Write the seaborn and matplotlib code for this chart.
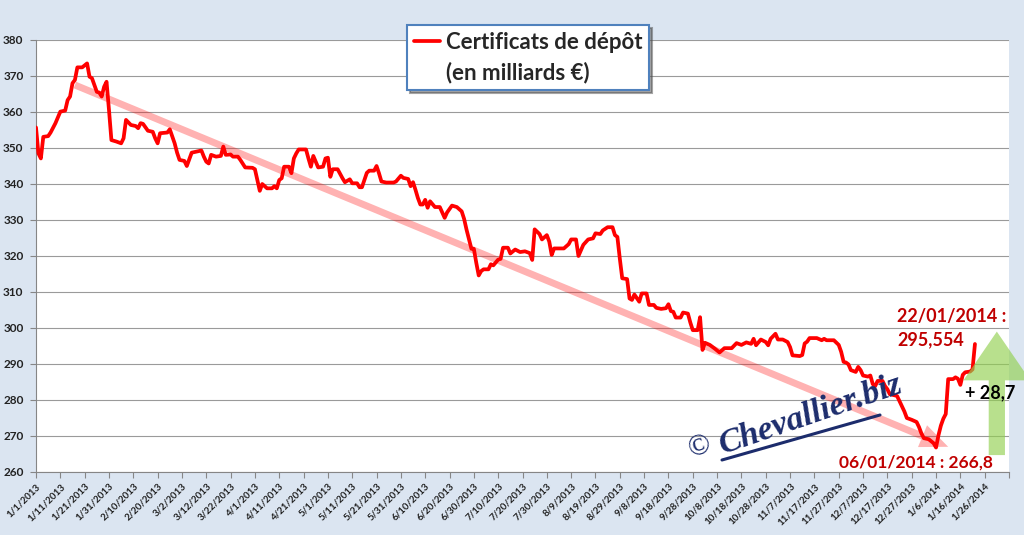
import matplotlib
matplotlib.use("Agg")
import matplotlib.pyplot as plt
import matplotlib.dates as mdates
from matplotlib.lines import Line2D
import pandas as pd
import seaborn as sns

# --- data (days counted from 1/1/2013) ---
start_date = pd.Timestamp("2013-01-01")
day_offset = [
    0, 1, 2, 3, 5, 6, 8, 10, 12, 13, 14, 15, 16, 17, 19, 21, 22, 23, 25, 26,
    27, 28, 29, 30, 31, 33, 35, 36, 37, 39, 41, 42, 43, 44, 46, 48, 49, 50, 51, 54,
    55, 57, 58, 59, 61, 62, 64, 66, 68, 69, 70, 71, 72, 74, 76, 77, 78, 80, 81, 83,
    84, 86, 89, 90, 91, 92, 93, 95, 97, 98, 99, 100, 101, 102, 104, 105, 106, 107, 108, 111,
    112, 113, 114, 116, 118, 119, 120, 121, 122, 124, 126, 127, 129, 130, 132, 133, 134, 136, 137, 139,
    140, 141, 142, 144, 147, 148, 150, 151, 153, 154, 155, 156, 157, 158, 159, 160, 161, 162, 164, 166,
    168, 169, 171, 173, 175, 176, 177, 178, 179, 180, 181, 182, 183, 184, 186, 187, 188, 190, 191, 192,
    194, 195, 197, 199, 201, 203, 204, 205, 207, 208, 210, 211, 212, 213, 217, 219, 220, 222, 223, 225,
    227, 229, 230, 232, 233, 235, 237, 238, 239, 240, 241, 243, 244, 245, 246, 248, 249, 251, 252, 254,
    255, 257, 259, 260, 261, 262, 263, 265, 266, 268, 269, 270, 272, 273, 274, 275, 277, 279, 281, 283,
    286, 288, 290, 292, 294, 295, 296, 298, 300, 301, 302, 304, 305, 307, 309, 310, 311, 314, 315, 316,
    317, 318, 321, 323, 324, 325, 328, 330, 331, 332, 333, 334, 335, 337, 338, 339, 340, 342, 343, 344,
    345, 346, 348, 349, 350, 351, 353, 354, 356, 357, 358, 360, 362, 363, 364, 365, 367, 369, 370, 371,
    372, 373, 374, 375, 377, 378, 379, 380, 381, 382, 384, 385, 386,
]
values = [
    355.7, 348.5, 347.1, 353.1, 353.3, 354.3, 356.9, 360.1, 360.4, 363.3, 364.3, 368.0, 368.9, 372.4, 372.4, 373.5, 369.8, 369.4, 365.6, 365.4,
    364.3, 367.0, 368.4, 360.6, 352.2, 351.8, 351.3, 352.7, 357.8, 356.4, 356.1, 355.5, 356.9, 356.7, 354.8, 354.5, 352.7, 351.3, 354.1, 354.3,
    355.2, 351.3, 348.7, 346.7, 346.4, 345.0, 348.7, 349.0, 349.3, 347.6, 346.2, 345.7, 348.1, 347.6, 347.8, 350.4, 348.1, 348.2, 347.6, 347.6,
    346.7, 344.6, 344.5, 344.1, 341.1, 338.1, 340.0, 338.8, 338.8, 339.4, 338.8, 341.1, 341.6, 344.8, 344.8, 343.0, 347.1, 348.5, 349.6, 349.6,
    347.1, 344.8, 347.8, 344.6, 344.8, 347.1, 347.3, 342.0, 344.1, 344.1, 341.6, 340.5, 341.3, 340.2, 340.2, 339.1, 339.1, 343.1, 343.7, 343.7,
    345.0, 343.0, 340.7, 340.4, 340.4, 340.7, 342.3, 341.7, 341.4, 339.4, 340.5, 338.4, 336.1, 334.3, 334.3, 335.6, 333.4, 335.2, 333.6, 333.6,
    330.6, 332.1, 334.0, 333.6, 332.4, 330.3, 327.3, 324.6, 322.0, 322.0, 318.1, 314.6, 315.8, 316.3, 316.3, 317.7, 317.4, 319.0, 319.2, 322.3,
    322.3, 320.7, 321.8, 321.1, 321.3, 320.8, 318.9, 327.4, 326.1, 324.6, 325.8, 324.0, 320.3, 322.1, 322.1, 323.3, 324.6, 324.6, 320.0, 323.1,
    324.6, 324.9, 326.3, 326.1, 327.1, 328.0, 328.0, 325.8, 325.3, 319.3, 313.8, 313.6, 308.2, 307.8, 309.3, 307.3, 309.6, 309.6, 306.4, 306.4,
    305.6, 305.3, 305.5, 306.6, 304.7, 304.5, 302.9, 302.9, 304.3, 304.0, 301.5, 299.4, 299.4, 303.0, 293.9, 295.9, 295.3, 294.3, 293.2, 294.4,
    294.4, 295.8, 295.3, 296.0, 295.6, 297.0, 295.2, 296.8, 296.1, 295.2, 297.0, 298.4, 296.8, 296.8, 296.1, 294.7, 292.4, 292.2, 292.5, 295.7,
    296.2, 297.2, 297.2, 296.6, 297.0, 296.6, 296.6, 295.3, 293.4, 290.6, 290.4, 289.9, 288.3, 287.8, 289.2, 288.3, 286.8, 286.5, 286.8, 284.4,
    283.9, 285.3, 285.3, 283.9, 283.0, 281.6, 281.3, 281.1, 278.2, 276.8, 275.0, 274.5, 273.9, 272.5, 270.7, 269.4, 269.1, 268.0, 266.8, 270.2,
    272.9, 274.8, 276.1, 285.8, 285.8, 286.3, 285.9, 284.2, 287.0, 287.7, 287.9, 288.5, 295.554,
]

series_label = "Certificats de dépôt"
series_unit = "(en milliards €)"
y_ticks = list(range(260, 381, 10))
low_date, low_value = "2014-01-06", 266.8
last_date, last_value = "2014-01-22", 295.554
gain_text = "+ 28,7"
trend_start = ("2013-01-17", 367.5)
trend_end = ("2014-01-11", 267.0)
rise_date, rise_from, rise_to = "2014-01-31", 264.7, 299.0

df = pd.DataFrame({"date": start_date + pd.to_timedelta(day_offset, unit="D"),
                   "value": values})

BG = "#dbe5f1"
DARK_RED = "#c00000"
GRID = "#9a9a9a"

sns.set_theme(style="white")
plt.rcParams["font.family"] = ["Lato", "DejaVu Sans"]

fig = plt.figure(figsize=(10.24, 5.35), dpi=100, facecolor=BG)
ax = fig.add_axes([36 / 1024, 63 / 535, 973 / 1024, 432 / 535])
ax.set_facecolor("white")

sns.lineplot(data=df, x="date", y="value", color="#ff0000", lw=2.7, ax=ax,
             label=series_label, zorder=3)

# axes
x_ticks = pd.date_range("2013-01-01", "2014-02-05", freq="10D")
ax.set_xlim(x_ticks[0], x_ticks[-1])
ax.set_ylim(y_ticks[0], y_ticks[-1])
ax.set_xticks(x_ticks)
ax.set_xticklabels([f"{d.month}/{d.day}/{d.year}" if i < len(x_ticks) - 1 else ""
                    for i, d in enumerate(x_ticks)],
                   rotation=45, ha="right", rotation_mode="anchor",
                   fontsize=7, fontweight="bold", color="#222222")
ax.set_yticks(y_ticks)
ax.set_yticklabels([str(v) for v in y_ticks], fontsize=8.5, fontweight="bold",
                   color="#222222")
ax.tick_params(axis="x", length=4, width=0.8, color="#868686", pad=3, bottom=True)
ax.tick_params(axis="y", length=4, width=0.8, color="#868686", pad=5, left=True)
ax.grid(axis="y", color=GRID, lw=0.8)
ax.set_axisbelow(True)
for side in ("top", "right"):
    ax.spines[side].set_visible(False)
for side in ("left", "bottom"):
    ax.spines[side].set_color("#868686")
    ax.spines[side].set_linewidth(0.8)
ax.set_xlabel("")
ax.set_ylabel("")

num = lambda d: mdates.date2num(pd.Timestamp(d))

# trend arrow
ax.annotate("", xy=(num(trend_end[0]), trend_end[1]),
            xytext=(num(trend_start[0]), trend_start[1]),
            arrowprops=dict(arrowstyle="simple,head_length=2.0,head_width=1.7,tail_width=0.5",
                            mutation_scale=10, color="#ff0000", alpha=0.3, lw=0,
                            shrinkA=0, shrinkB=0), zorder=4)

# rise arrow
ax.annotate("", xy=(num(rise_date), rise_to), xytext=(num(rise_date), rise_from),
            arrowprops=dict(arrowstyle="simple,head_length=1.35,head_width=1.85,tail_width=0.45",
                            mutation_scale=26, color="#92d050", alpha=0.65, lw=0,
                            shrinkA=0, shrinkB=0, clip_on=False),
            annotation_clip=False, zorder=4)

# annotations
txt = dict(fontweight="bold", va="center", ha="left", zorder=6)
ax.text(num("2013-12-21"), 303.1, f"{pd.Timestamp(last_date):%d/%m/%Y} :",
        color=DARK_RED, fontsize=13, **txt)
ax.text(num("2013-12-21"), 296.7, f"{last_value:.3f}".replace(".", ","),
        color=DARK_RED, fontsize=13, **txt)
ax.text(num("2014-01-18"), 282.0, gain_text, color="black", fontsize=13,
        clip_on=False, **txt)
ax.text(num("2013-11-27"), 262.5,
        f"{pd.Timestamp(low_date):%d/%m/%Y} : {low_value:.1f}".replace(".", ","),
        color=DARK_RED, fontsize=12.5, **txt)

# watermark
NAVY = "#1c2c6c"
fig.text(700 / 1024, 1 - 448 / 535, "©", fontsize=21, color=NAVY,
         family=["Liberation Serif", "DejaVu Serif"], ha="center", va="center", rotation=18)
fig.text(723 / 1024, 1 - 454 / 535, "Chevallier.biz", fontsize=24.5, color=NAVY,
         family=["Liberation Serif", "DejaVu Serif"], style="italic", weight="bold",
         ha="left", va="baseline", rotation=19, rotation_mode="anchor", zorder=7)
fig.add_artist(Line2D([722 / 1024, 880 / 1024], [1 - 460 / 535, 1 - 415 / 535],
                      color=NAVY, lw=2.2, transform=fig.transFigure))

# legend
line_handle = ax.get_lines()[0]
blank = Line2D([], [], color="none")
leg = ax.legend([line_handle, blank], [series_label, series_unit],
                loc="upper left", bbox_to_anchor=(407 / 1024, 1 - 25 / 535),
                bbox_transform=fig.transFigure, frameon=True, fancybox=False,
                shadow=True, handlelength=1.2, handletextpad=0.25, borderpad=0.3,
                labelspacing=0.4, borderaxespad=0,
                prop=dict(family="Lato", weight="bold", size=16))
leg.get_frame().set_edgecolor("#4f81bd")
leg.get_frame().set_linewidth(1.5)
leg.set_zorder(8)

fig.savefig("out.png", dpi=100, facecolor=BG)
